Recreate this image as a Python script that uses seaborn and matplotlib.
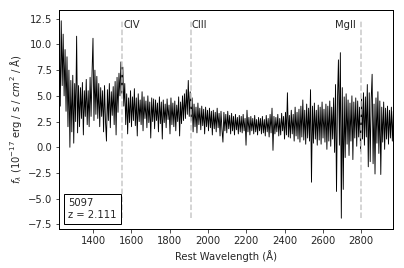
import numpy as np
import pandas as pd
import matplotlib
matplotlib.use("Agg")
import matplotlib.pyplot as plt
from matplotlib.offsetbox import AnchoredText
import seaborn as sns

# ---- data (5 A sampling) ----
flux = [
    10.5, 4.0, 12.3, 6.0, 11.0, 5.0, 9.5, 3.5, 8.8, 2.0,
    7.5, 0.0, 6.5, 1.5, 7.0, 0.4, 6.2, 2.5, 10.8, 1.4,
    6.0, 2.0, 5.8, 2.8, 6.3, 1.2, 5.5, 3.0, 6.6, 2.2,
    5.5, 2.0, 6.8, 3.0, 7.2, 10.6, 2.6, 7.5, 3.2, 6.9,
    2.8, 6.2, 2.0, 5.8, 3.0, 5.5, 1.5, 6.0, 2.5, 0.6,
    5.6, 2.6, 6.2, 1.9, 5.4, 3.1, 5.9, 2.2, 6.4, 1.2,
    6.8, 3.4, 7.2, 5.0, 8.3, 5.2, 7.8, 4.0, 6.2, 2.2,
    5.2, 1.3, 4.8, 2.4, 5.5, 2.0, 4.9, 2.6, 5.7, 2.1,
    4.8, 1.1, 5.2, 2.5, 4.6, 2.2, 5.4, 1.6, 4.9, 2.8,
    4.5, 1.9, 5.0, 2.4, 4.4, 0.9, 4.8, 2.5, 4.7, 1.8,
    4.6, 2.6, 4.3, 1.5, 4.9, 2.3, 4.4, 0.8, 4.6, 2.4,
    4.2, 1.9, 4.7, 2.7, 4.1, 1.3, 4.8, 2.2, 4.3, 2.0,
    4.5, 1.6, 4.1, 2.5, 4.9, 1.1, 4.4, 2.3, 5.0, 2.6,
    5.2, 2.8, 5.6, 3.2, 6.5, 3.0, 5.4, 2.6, 4.8, 1.5,
    4.2, 2.0, 3.9, 1.4, 4.3, 2.2, 3.8, 1.7, 4.0, 2.1,
    3.7, 1.3, 3.9, 2.0, 3.6, 1.6, 3.8, 1.9, 3.5, 1.2,
    3.6, 1.8, 3.4, 1.5, 3.8, 1.9, 3.3, 1.1, 3.5, 1.7,
    0.5, 3.4, 1.6, 3.2, 1.4, 3.5, 1.8, 3.1, 1.3, 3.3,
    1.6, 3.0, 1.2, 3.2, 1.7, 2.9, 1.3, 3.1, 1.5, 3.0,
    1.4, 3.2, 1.6, 2.8, 0.2, 3.6, 1.5, 2.9, 1.2, 3.0,
    1.6, 2.8, 1.3, 3.1, 1.5, 2.7, 1.2, 2.9, 1.6, 2.8,
    1.3, 3.0, 1.4, 2.7, 1.1, 3.1, 1.5, 2.8, 1.0, 3.2,
    1.4, 3.8, -0.3, 3.0, 1.3, 2.9, 1.5, 3.2, 1.1, 2.8,
    1.2, 3.3, 1.6, 3.0, 0.8, 3.4, 1.2, 5.3, 1.0, 3.1,
    0.9, 3.6, 1.3, 3.2, 0.6, 3.9, 1.1, 3.4, 0.8, 3.7,
    0.5, 4.0, 1.0, 4.6, 0.7, 3.6, 0.3, 4.2, 0.9, 3.8,
    0.6, 5.6, -3.4, 4.0, 0.4, 4.3, 0.8, 3.6, 0.2, 4.1,
    0.7, 3.9, 0.3, 4.4, 0.9, 3.7, 0.5, 4.2, -0.2, 4.0,
    0.6, 4.5, 0.1, 3.9, 0.8, 4.8, -0.5, 6.1, -4.3, 4.6,
    8.5, 0.2, 9.2, -6.9, 5.8, -4.1, 4.9, -1.0, 5.2, 0.3,
    4.6, -0.8, 4.3, 0.6, 5.0, -1.2, 4.4, 0.9, 4.8, 0.1,
    4.5, 1.0, 3.9, -0.4, 4.7, 0.8, 5.3, 0.2, 4.9, 1.0,
    6.1, -1.9, 5.3, -1.4, 4.6, 7.1, -1.6, 4.2, -2.6, 4.8,
    0.4, 5.4, -0.6, 4.5, -2.65, 3.9, 0.5, 4.4, -0.2, 3.8,
    0.8, 4.0, 0.3, 3.6, 0.9, 3.9, 0.6, 3.5,
]
wave_start, wave_end = 1223.0, 2968.0
line_names = ["CIV", "CIII", "MgII"]
line_waves = [1549, 1909, 2799]
obj_id = "5097"
redshift = "2.111"
xticks = [1400, 1600, 1800, 2000, 2200, 2400, 2600, 2800]
yticks = [-7.5, -5.0, -2.5, 0.0, 2.5, 5.0, 7.5, 10.0, 12.5]

wave = np.linspace(wave_start, wave_end, len(flux))
df = pd.DataFrame({"wave": wave, "flux": flux})

sns.set_style("ticks")
plt.rcParams["font.family"] = ["DejaVu Sans"]
plt.rcParams["font.size"] = 10
plt.rcParams["xtick.direction"] = "out"
plt.rcParams["ytick.direction"] = "out"

fig = plt.figure(figsize=(404 / 72, 268 / 72), dpi=72)
ax = fig.add_axes([59.3 / 404, 1 - 229 / 268, (393.3 - 59.3) / 404, (229 - 10) / 268])

sns.lineplot(data=df, x="wave", y="flux", color="black", linewidth=0.9,
             sort=False, estimator=None, ax=ax)

fmin, fmax = min(flux), max(flux)
ax.vlines(line_waves, fmin, fmax, colors="#c8c8c8", linestyles="--", linewidth=1.5)
offsets = [10, 5, -25]
aligns = ["left", "left", "right"]
for name, lw_, off, ha in zip(line_names, line_waves, offsets, aligns):
    ax.text(lw_ + off, 11.9, name, ha=ha, va="center", fontsize=10)

at = AnchoredText(f"{obj_id}\nz = {redshift}", loc="lower left", frameon=True,
                  prop=dict(size=10))
at.patch.set_edgecolor("black")
at.patch.set_linewidth(1.0)
at.patch.set_boxstyle("square,pad=0")
ax.add_artist(at)

ax.set_xlim(wave_start, wave_end)
ax.set_ylim(-7.95, 13.35)
ax.set_xticks(xticks)
ax.set_yticks(yticks)
ax.set_xlabel("Rest Wavelength (Å)")
ax.set_ylabel(r"$f_\lambda$ ($10^{-17}$ erg / s / $cm^2$ / Å)")
for s in ax.spines.values():
    s.set_color("black")
    s.set_linewidth(1.0)

fig.savefig("out.png", dpi=72, facecolor="white")
